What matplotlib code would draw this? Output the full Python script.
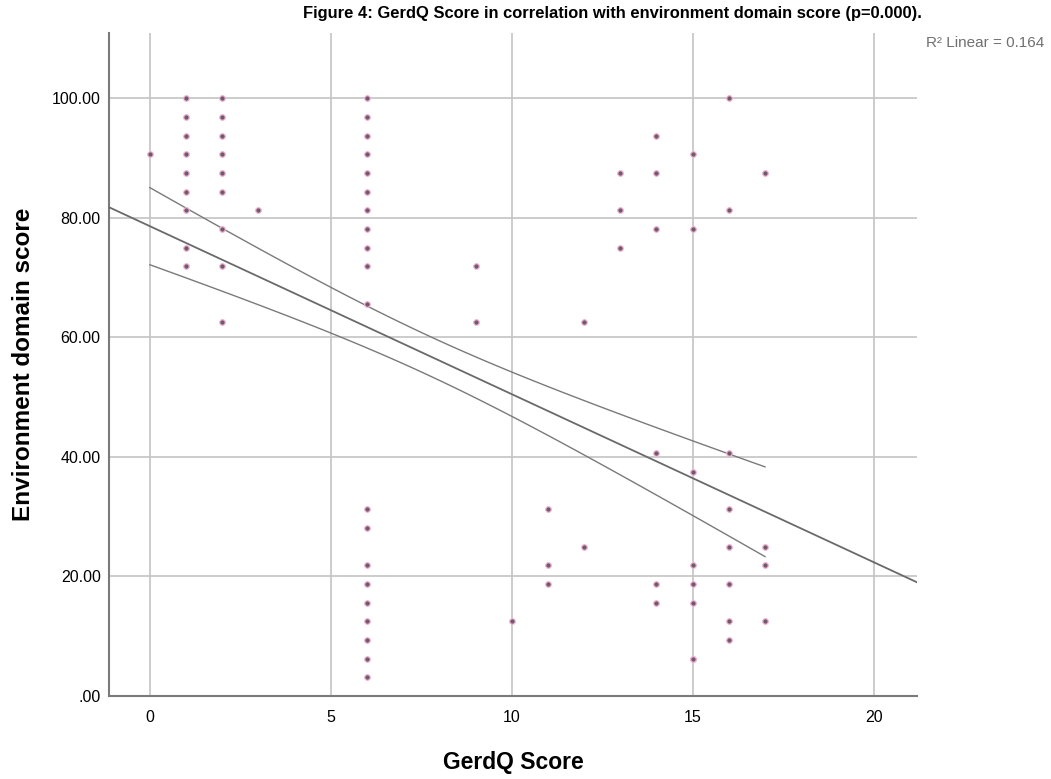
import matplotlib.pyplot as plt
import numpy as np

plt.rcParams['font.family'] = ['Liberation Sans', 'DejaVu Sans']

# scatter points (GerdQ score, environment domain score)
gerdq_scores = [0,
                1, 1, 1, 1, 1, 1, 1, 1, 1,
                2, 2, 2, 2, 2, 2, 2, 2, 2,
                3,
                6, 6, 6, 6, 6, 6, 6, 6, 6, 6, 6,
                6, 6, 6, 6, 6, 6, 6, 6, 6,
                9, 9,
                10,
                11, 11, 11,
                12, 12,
                13, 13, 13,
                14, 14, 14, 14, 14, 14,
                15, 15, 15, 15, 15, 15, 15, 15,
                16, 16, 16, 16, 16, 16, 16, 16,
                17, 17, 17, 17]
env_scores = [90.625,
              100, 96.875, 93.75, 90.625, 87.5, 84.375, 81.25, 75, 71.875,
              100, 96.875, 93.75, 90.625, 87.5, 84.375, 78.125, 71.875, 62.5,
              81.25,
              100, 96.875, 93.75, 90.625, 87.5, 84.375, 81.25, 78.125, 75, 71.875, 65.625,
              31.25, 28.125, 21.875, 18.75, 15.625, 12.5, 9.375, 6.25, 3.125,
              71.875, 62.5,
              12.5,
              31.25, 21.875, 18.75,
              62.5, 25,
              87.5, 81.25, 75,
              93.75, 87.5, 78.125, 40.625, 18.75, 15.625,
              90.625, 78.125, 37.5, 21.875, 18.75, 15.625, 6.25, 6.25,
              100, 81.25, 40.625, 31.25, 25, 18.75, 12.5, 9.375,
              87.5, 25, 21.875, 12.5]

# fit line and its confidence band
fit_intercept = 78.6
fit_slope = -2.81
band_a, band_b, band_center = 10.9, 0.522, 7.67
band_x_range = (0, 17)

xlim = (-1.13, 21.2)
ylim = (0, 110.9)
x_ticks = [0, 5, 10, 15, 20]
y_ticks = [0, 20, 40, 60, 80, 100]
y_tick_labels = ['.00', '20.00', '40.00', '60.00', '80.00', '100.00']

fig = plt.figure(figsize=(10.51, 7.79), dpi=100)
ax = fig.add_axes([0.1037, 0.1065, 0.7688, 0.851])

ax.set_xlim(*xlim)
ax.set_ylim(*ylim)
ax.set_xticks(x_ticks)
ax.set_yticks(y_ticks)
ax.set_yticklabels(y_tick_labels)
ax.tick_params(length=0, labelsize=11.5)
ax.tick_params(axis='y', pad=6)
ax.tick_params(axis='x', pad=10)
ax.grid(True, color='#c4c4c4', lw=1.2)
ax.set_axisbelow(True)
for s in ['top', 'right']:
    ax.spines[s].set_visible(False)
for s in ['left', 'bottom']:
    ax.spines[s].set_color('#7a7a7a')
    ax.spines[s].set_linewidth(1.5)

# fit line over whole axis
xf = np.linspace(xlim[0], xlim[1], 50)
ax.plot(xf, fit_intercept + fit_slope * xf, color='#6a6a6a', lw=1.3, zorder=3)

# confidence band
xb = np.linspace(band_x_range[0], band_x_range[1], 100)
yb = fit_intercept + fit_slope * xb
hw = np.sqrt(band_a + band_b * (xb - band_center) ** 2)
ax.plot(xb, yb + hw, color='#7a7a7a', lw=1.0, zorder=3)
ax.plot(xb, yb - hw, color='#7a7a7a', lw=1.0, zorder=3)

ax.scatter(gerdq_scores, env_scores, s=16, color='#6e5a68',
           edgecolors='#f3b3d6', linewidths=0.9, zorder=4)

ax.set_xlabel('GerdQ Score', fontsize=16.5, fontweight='bold', labelpad=19)
ax.set_ylabel('Environment domain score', fontsize=17.5, fontweight='bold',
              labelpad=12)

fig.text(0.877, 0.983, 'Figure 4: GerdQ Score in correlation with environment domain score (p=0.000).',
         ha='right', va='center', fontsize=11.9, fontweight='bold')
fig.text(0.994, 0.945, 'R² Linear = 0.164', ha='right', va='center',
         fontsize=11, color='#707070')

fig.savefig('out.png', dpi=100)
